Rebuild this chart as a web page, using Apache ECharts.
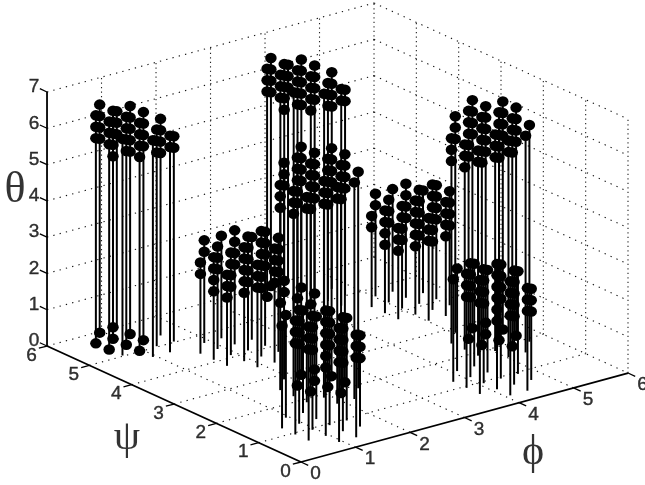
<!DOCTYPE html>
<html>
<head>
<meta charset="utf-8">
<style>html,body{margin:0;padding:0;background:#fff}#c{width:645px;height:485px}</style>
<script src="https://cdn.jsdelivr.net/npm/echarts@6/dist/echarts.min.js"></script>
</head>
<body>
<div id="c"></div>
<script>
// Data: each stem is [phi, psi, [theta...]], all in lattice steps of pi/10.
const LATTICE_STEP = Math.PI / 10;
const clusterA = [[2,16,[19]],[2,17,[0,18,19,20]],[2,18,[0,18,19,20]],[3,15,[19]],[3,16,[0,17,18,19,20]],[3,17,[0,17,18,19,20]],[3,18,[0,1,16,17,18,19,20]],[3,19,[0,17,18,19,20]],[4,15,[18,19]],[4,16,[17,18,19]],[4,17,[0,17,18,19,20]],[4,18,[0,16,17,18,19,20]],[4,19,[17,18,19]],[5,16,[17,18]],[5,17,[16,17,18,19]]];
const clusterB = [[12,16,[19]],[12,17,[0,18,19,20]],[12,18,[0,18,19,20]],[13,15,[19]],[13,16,[0,17,18,19,20]],[13,17,[0,17,18,19,20]],[13,18,[0,1,16,17,18,19,20]],[13,19,[0,17,18,19,20]],[14,15,[18,19]],[14,16,[17,18,19]],[14,17,[0,17,18,19,20]],[14,18,[0,16,17,18,19,20]],[14,19,[17,18,19]],[15,16,[17,18]],[15,17,[16,17,18,19]]];
const clusterC = [[5,6,[17,18]],[5,7,[16,17,18]],[5,8,[16,17,18]],[6,5,[18,19]],[6,6,[17,18,19]],[6,7,[0,16,17,18,19,20]],[6,8,[0,16,17,18,19,20]],[6,9,[17,18,19]],[7,5,[19]],[7,6,[0,17,18,19,20]],[7,7,[0,16,17,18,19,20]],[7,8,[0,1,16,17,18,19,20]],[7,9,[0,17,18,19,20]],[8,6,[19]],[8,7,[0,17,18,19,20]],[8,8,[0,17,18,19,20]]];
const clusterD = [[15,6,[17,18]],[15,7,[16,17,18]],[15,8,[16,17,18]],[16,5,[18,19]],[16,6,[17,18,19]],[16,7,[0,16,17,18,19,20]],[16,8,[0,16,17,18,19,20]],[16,9,[17,18,19]],[17,5,[19]],[17,6,[0,17,18,19,20]],[17,7,[0,16,17,18,19,20]],[17,8,[0,1,16,17,18,19,20]],[17,9,[0,17,18,19,20]],[18,6,[19]],[18,7,[0,17,18,19,20]],[18,8,[0,17,18,19,20]]];
const clusterF = [[5,14,[7,8]],[6,15,[8,9]],[5,13,[6,7,8,9]],[6,14,[7,8,9]],[7,15,[9]],[5,12,[6,7,8]],[6,13,[6,7,8,9]],[7,14,[7,8,9,10]],[6,12,[6,7,8,9,10]],[7,13,[6,7,8,9,10]],[8,14,[9]],[6,11,[7,8,9]],[7,12,[6,7,8,9,10,11]],[8,13,[7,8,9,10]],[7,11,[7,8,9,10]],[8,12,[7,8,9,10]]];
const clusterG = [[15,14,[7,8]],[16,15,[8,9]],[15,13,[6,7,8,9]],[16,14,[7,8,9]],[17,15,[9]],[15,12,[6,7,8]],[16,13,[6,7,8,9]],[17,14,[7,8,9,10]],[16,12,[6,7,8,9,10]],[17,13,[6,7,8,9,10]],[18,14,[9]],[16,11,[7,8,9]],[17,12,[6,7,8,9,10,11]],[18,13,[7,8,9,10]],[17,11,[7,8,9,10]],[18,12,[7,8,9,10]]];
const clusterH = [[2,4,[9]],[3,5,[9]],[2,3,[8,9,10]],[3,4,[7,8,9,10]],[4,5,[9]],[2,2,[8,9,10]],[3,3,[7,8,9,10]],[4,4,[9]],[3,2,[6,7,8,9,10,11]],[4,3,[7,8,9,10]],[3,1,[7,8,9,10]],[4,2,[6,7,8,9,10]],[5,3,[9]],[4,1,[7,8,9]],[5,2,[6,7,8]]];
const clusterI = [[12,4,[9]],[13,5,[9]],[12,3,[8,9,10]],[13,4,[7,8,9,10]],[14,5,[9]],[12,2,[8,9,10]],[13,3,[7,8,9,10]],[14,4,[9]],[13,2,[6,7,8,9,10,11]],[14,3,[7,8,9,10]],[13,1,[7,8,9,10]],[14,2,[6,7,8,9,10]],[15,3,[9]],[14,1,[7,8,9]],[15,2,[6,7,8]]];
const phiTicks = [0,1,2,3,4,5,6];
const psiTicks = [0,1,2,3,4,5,6];
const thetaTicks = [0,1,2,3,4,5,6,7];

// Oblique view of the 3D box onto the plane of the hidden cartesian axes.
function project(phi, psi, theta) {
  return [301 + 54.5 * phi - 42.33 * psi, 462 - 14.83 * phi - 19.33 * psi - 36.29 * theta];
}
const PHI_MAX = 6, PSI_MAX = 6, THETA_MAX = 7;

const stems = [], markers = [];
[clusterA, clusterB, clusterC, clusterD, clusterF, clusterG, clusterH, clusterI].forEach(function (cl) {
  cl.forEach(function (s) {
    const phi = s[0] * LATTICE_STEP, psi = s[1] * LATTICE_STEP;
    const top = Math.max.apply(null, s[2]) * LATTICE_STEP;
    stems.push(project(phi, psi, 0).concat(project(phi, psi, top)));
    s[2].forEach(function (c) { markers.push(project(phi, psi, c * LATTICE_STEP)); });
  });
});

const gridVert = [], gridSlant = [], solid = [];
function seg(list, a, b) { list.push(project(a[0], a[1], a[2]).concat(project(b[0], b[1], b[2]))); }
phiTicks.forEach(function (p) {
  if (p > 0 && p < PHI_MAX) seg(gridSlant, [p, 0, 0], [p, PSI_MAX, 0]);
  if (p > 0) seg(gridVert, [p, PSI_MAX, 0], [p, PSI_MAX, THETA_MAX]);
});
psiTicks.forEach(function (q) {
  if (q > 0 && q < PSI_MAX) seg(gridSlant, [0, q, 0], [PHI_MAX, q, 0]);
  if (q < PSI_MAX) seg(gridVert, [PHI_MAX, q, 0], [PHI_MAX, q, THETA_MAX]);
});
thetaTicks.forEach(function (t) {
  seg(gridSlant, [0, PSI_MAX, t], [PHI_MAX, PSI_MAX, t]);
  seg(gridSlant, [PHI_MAX, PSI_MAX, t], [PHI_MAX, 0, t]);
});
seg(solid, [0, 0, 0], [PHI_MAX, 0, 0]);
seg(solid, [0, 0, 0], [0, PSI_MAX, 0]);
seg(solid, [0, PSI_MAX, 0], [0, PSI_MAX, THETA_MAX]);
const ticks = [];
phiTicks.forEach(function (p) { seg(ticks, [p, 0, 0], [p, -0.17, 0]); });
psiTicks.forEach(function (q) { seg(ticks, [0, q, 0], [-0.15, q, 0]); });
thetaTicks.forEach(function (t) { seg(ticks, [0, PSI_MAX, t], [0, PSI_MAX + 0.17, t]); });

function labelPoints(ticksArr, fn, dx, dy) {
  return ticksArr.map(function (t) {
    const p = fn(t);
    return { value: [p[0] + dx, p[1] + dy], name: String(t) };
  });
}
const tickLabels = []
  .concat(labelPoints(phiTicks, function (p) { return project(p, 0, 0); }, 14.5, 12))
  .concat(labelPoints(psiTicks, function (q) { return project(0, q, 0); }, -15.5, 9.5))
  .concat(labelPoints(thetaTicks, function (t) { return project(0, PSI_MAX, t); }, -13, -5));

function segSeries(data, width, color, dash, z) {
  return {
    type: 'custom', silent: true, z: z, clip: false, animation: false,
    data: data,
    encode: { x: [0, 2], y: [1, 3] },
    renderItem: function (params, api) {
      const a = api.coord([api.value(0), api.value(1)]);
      const b = api.coord([api.value(2), api.value(3)]);
      return { type: 'line', shape: { x1: a[0], y1: a[1], x2: b[0], y2: b[1] },
        style: { stroke: color, lineWidth: width, lineDash: dash || null, fill: null } };
    }
  };
}
function titleSeries(text, x, y, size) {
  return {
    type: 'scatter', silent: true, z: 6, symbolSize: 0, animation: false,
    data: [{ value: [x, y], name: text }],
    label: { show: true, position: 'inside', formatter: '{b}', color: '#000', fontSize: size, fontFamily: 'Liberation Serif' }
  };
}

const chart = echarts.init(document.getElementById('c'), null, { renderer: 'canvas', width: 645, height: 485 });
chart.setOption({
  animation: false,
  backgroundColor: '#fff',
  grid: { left: 0, right: 0, top: 0, bottom: 0 },
  xAxis: { type: 'value', min: 0, max: 645, show: false },
  yAxis: { type: 'value', min: 0, max: 485, inverse: true, show: false },
  series: [
    segSeries(gridSlant, 1.1, '#111', [1.3, 5.2], 1),
    segSeries(gridVert, 1.1, '#222', [1.3, 3.2], 1),
    segSeries(stems, 2, '#000', null, 2),
    { type: 'scatter', silent: true, z: 3, symbol: 'circle', symbolSize: [11.5, 10.5], itemStyle: { color: '#000', opacity: 1 }, data: markers, animation: false },
    segSeries(solid, 1.8, '#000', null, 4),
    segSeries(ticks, 1.3, '#000', null, 4),
    { type: 'scatter', silent: true, z: 5, symbolSize: 0, data: tickLabels, animation: false,
      label: { show: true, position: 'inside', formatter: '{b}', color: '#000', fontSize: 19, fontFamily: 'Liberation Sans', textBorderColor: '#000', textBorderWidth: 0.4 } },
    titleSeries('θ', 15, 190, 44),
    titleSeries('ψ', 127, 438, 42),
    titleSeries('ϕ', 533, 453, 42)
  ]
});
</script>
</body>
</html>
